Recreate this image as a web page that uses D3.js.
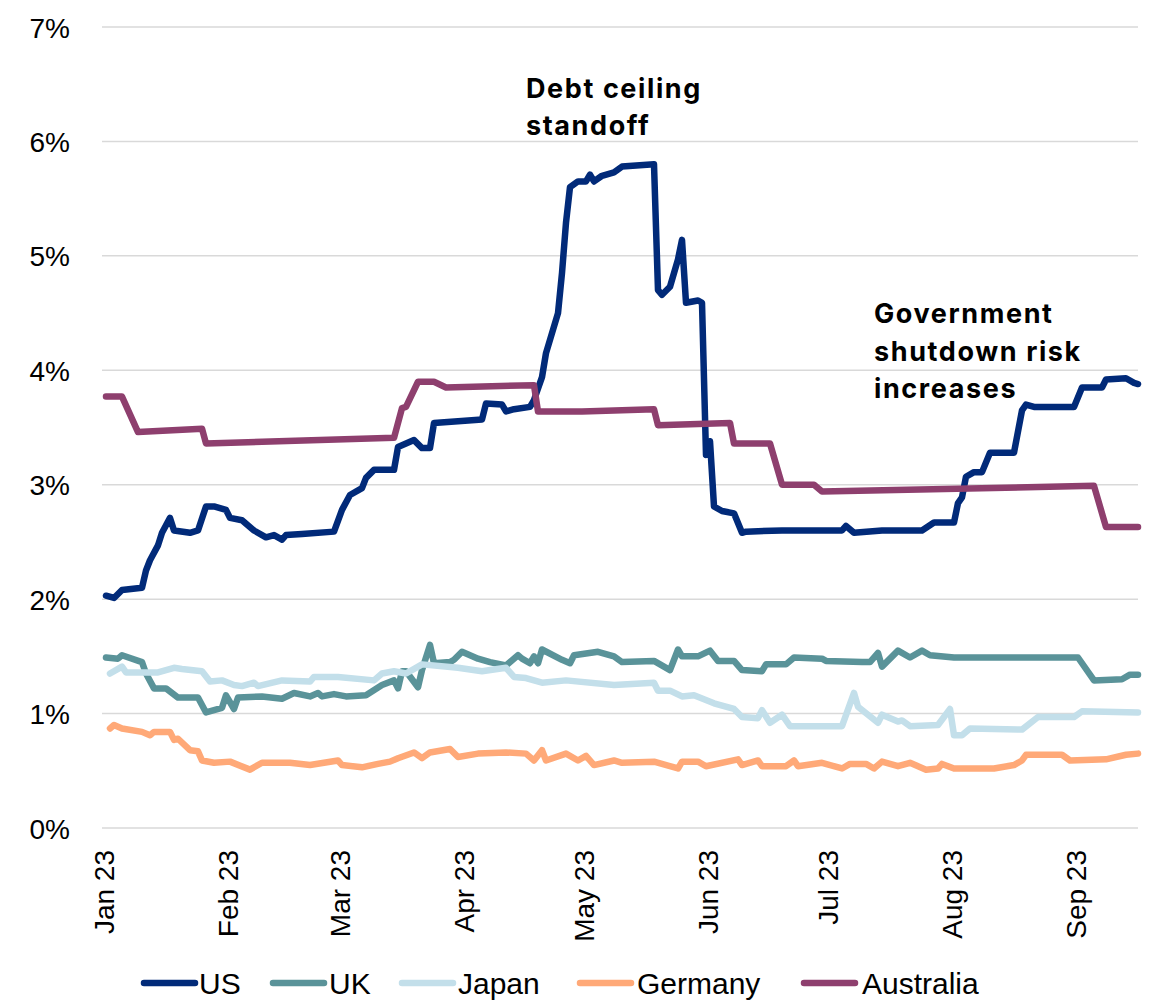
<!DOCTYPE html>
<html>
<head>
<meta charset="utf-8">
<script src="https://cdn.jsdelivr.net/npm/d3@7"></script>
<style>
  html, body { margin: 0; padding: 0; background: #ffffff; }
  svg { display: block; }
  .tick text { font-family: "Liberation Sans", Arial, sans-serif; fill: #000; }
</style>
</head>
<body>
<svg id="chart" width="1154" height="1003"></svg>
<script>
// Yields (%) by date for each market, 2023
const US = [
  ["2023-01-02",2.03],["2023-01-04",2.01],["2023-01-06",2.08],["2023-01-11",2.10],["2023-01-12",2.25],
  ["2023-01-13",2.34],["2023-01-15",2.47],["2023-01-16",2.58],["2023-01-18",2.71],["2023-01-19",2.60],
  ["2023-01-23",2.58],["2023-01-25",2.60],["2023-01-27",2.81],["2023-01-29",2.81],["2023-02-01",2.78],
  ["2023-02-02",2.71],["2023-02-05",2.69],["2023-02-08",2.60],["2023-02-11",2.54],["2023-02-13",2.56],
  ["2023-02-15",2.52],["2023-02-16",2.56],["2023-02-20",2.57],["2023-02-28",2.59],["2023-03-02",2.78],
  ["2023-03-04",2.91],["2023-03-07",2.97],["2023-03-08",3.06],["2023-03-10",3.13],["2023-03-15",3.13],
  ["2023-03-16",3.33],["2023-03-20",3.39],["2023-03-22",3.32],["2023-03-24",3.32],["2023-03-25",3.54],
  ["2023-04-06",3.57],["2023-04-07",3.71],["2023-04-11",3.70],["2023-04-12",3.64],["2023-04-14",3.66],
  ["2023-04-18",3.68],["2023-04-19",3.74],["2023-04-21",3.94],["2023-04-22",4.15],["2023-04-25",4.50],
  ["2023-04-26",4.85],["2023-04-27",5.29],["2023-04-28",5.60],["2023-04-30",5.65],["2023-05-02",5.65],
  ["2023-05-03",5.71],["2023-05-04",5.65],["2023-05-06",5.70],["2023-05-09",5.73],["2023-05-11",5.78],
  ["2023-05-19",5.80],["2023-05-20",4.70],["2023-05-21",4.66],["2023-05-23",4.73],["2023-05-25",4.97],
  ["2023-05-26",5.14],["2023-05-27",4.59],["2023-05-30",4.61],["2023-05-31",4.59],["2023-06-01",3.26],
  ["2023-06-02",3.38],["2023-06-03",2.81],["2023-06-05",2.77],["2023-06-08",2.75],["2023-06-10",2.58],
  ["2023-06-11",2.59],["2023-06-20",2.60],["2023-07-05",2.60],["2023-07-06",2.64],["2023-07-08",2.58],
  ["2023-07-15",2.60],["2023-07-25",2.60],["2023-07-28",2.67],["2023-08-02",2.67],["2023-08-03",2.84],
  ["2023-08-04",2.89],["2023-08-05",3.07],["2023-08-07",3.11],["2023-08-09",3.11],["2023-08-11",3.28],
  ["2023-08-17",3.28],["2023-08-19",3.65],["2023-08-20",3.70],["2023-08-22",3.68],["2023-09-01",3.68],
  ["2023-09-03",3.85],["2023-09-08",3.85],["2023-09-09",3.92],["2023-09-14",3.93],["2023-09-16",3.89],
  ["2023-09-17",3.88]
];
const UK = [
  ["2023-01-02",1.49],["2023-01-05",1.48],["2023-01-06",1.51],["2023-01-11",1.45],["2023-01-12",1.35],
  ["2023-01-14",1.22],["2023-01-17",1.22],["2023-01-20",1.14],["2023-01-25",1.14],["2023-01-27",1.01],
  ["2023-01-31",1.05],["2023-02-01",1.16],["2023-02-03",1.04],["2023-02-04",1.14],["2023-02-10",1.15],
  ["2023-02-15",1.13],["2023-02-18",1.18],["2023-02-22",1.15],["2023-02-24",1.18],["2023-02-25",1.15],
  ["2023-02-28",1.17],["2023-03-03",1.15],["2023-03-08",1.16],["2023-03-12",1.25],["2023-03-15",1.29],
  ["2023-03-16",1.22],["2023-03-17",1.37],["2023-03-18",1.37],["2023-03-21",1.23],["2023-03-22",1.38],
  ["2023-03-24",1.60],["2023-03-25",1.44],["2023-03-29",1.45],["2023-03-30",1.47],["2023-04-01",1.54],
  ["2023-04-05",1.48],["2023-04-08",1.45],["2023-04-12",1.42],["2023-04-15",1.51],["2023-04-16",1.48],
  ["2023-04-18",1.44],["2023-04-19",1.50],["2023-04-20",1.44],["2023-04-21",1.56],["2023-04-26",1.47],
  ["2023-04-28",1.44],["2023-04-29",1.51],["2023-05-05",1.54],["2023-05-09",1.50],["2023-05-11",1.45],
  ["2023-05-19",1.46],["2023-05-23",1.38],["2023-05-25",1.56],["2023-05-26",1.50],["2023-05-30",1.50],
  ["2023-06-02",1.55],["2023-06-04",1.46],["2023-06-08",1.46],["2023-06-10",1.38],["2023-06-15",1.37],
  ["2023-06-16",1.43],["2023-06-21",1.43],["2023-06-23",1.49],["2023-06-30",1.48],["2023-07-01",1.46],
  ["2023-07-10",1.45],["2023-07-12",1.45],["2023-07-14",1.53],["2023-07-15",1.41],["2023-07-19",1.55],
  ["2023-07-22",1.49],["2023-07-25",1.55],["2023-07-27",1.51],["2023-08-02",1.49],["2023-09-02",1.49],
  ["2023-09-06",1.29],["2023-09-13",1.30],["2023-09-15",1.34],["2023-09-17",1.34]
];
const Japan = [
  ["2023-01-03",1.35],["2023-01-06",1.41],["2023-01-07",1.36],["2023-01-15",1.36],["2023-01-19",1.40],
  ["2023-01-21",1.39],["2023-01-26",1.37],["2023-01-28",1.28],["2023-01-31",1.29],["2023-02-03",1.25],
  ["2023-02-05",1.24],["2023-02-08",1.27],["2023-02-09",1.24],["2023-02-15",1.29],["2023-02-22",1.28],
  ["2023-02-23",1.32],["2023-03-01",1.32],["2023-03-10",1.29],["2023-03-12",1.35],["2023-03-15",1.37],
  ["2023-03-18",1.35],["2023-03-22",1.43],["2023-03-31",1.40],["2023-04-06",1.37],["2023-04-12",1.40],
  ["2023-04-14",1.32],["2023-04-17",1.31],["2023-04-21",1.27],["2023-04-27",1.29],["2023-05-09",1.25],
  ["2023-05-19",1.27],["2023-05-20",1.20],["2023-05-23",1.20],["2023-05-26",1.15],["2023-05-29",1.16],
  ["2023-06-03",1.09],["2023-06-08",1.04],["2023-06-10",0.97],["2023-06-14",0.96],["2023-06-15",1.03],
  ["2023-06-17",0.92],["2023-06-20",0.99],["2023-06-22",0.89],["2023-07-05",0.89],["2023-07-08",1.18],
  ["2023-07-09",1.06],["2023-07-14",0.92],["2023-07-15",0.99],["2023-07-19",0.93],["2023-07-20",0.94],
  ["2023-07-22",0.89],["2023-07-29",0.90],["2023-08-01",1.04],["2023-08-02",0.81],["2023-08-04",0.81],
  ["2023-08-06",0.87],["2023-08-19",0.86],["2023-08-23",0.97],["2023-09-01",0.97],["2023-09-03",1.02],
  ["2023-09-17",1.01]
];
const Germany = [
  ["2023-01-03",0.87],["2023-01-04",0.90],["2023-01-06",0.87],["2023-01-11",0.84],["2023-01-13",0.81],
  ["2023-01-14",0.84],["2023-01-18",0.84],["2023-01-19",0.77],["2023-01-20",0.78],["2023-01-23",0.68],
  ["2023-01-25",0.67],["2023-01-26",0.59],["2023-01-29",0.57],["2023-02-02",0.58],["2023-02-07",0.51],
  ["2023-02-10",0.57],["2023-02-17",0.57],["2023-02-22",0.55],["2023-03-01",0.59],["2023-03-02",0.55],
  ["2023-03-07",0.53],["2023-03-11",0.56],["2023-03-14",0.58],["2023-03-16",0.61],["2023-03-20",0.66],
  ["2023-03-22",0.61],["2023-03-24",0.66],["2023-03-29",0.69],["2023-03-31",0.62],["2023-04-05",0.65],
  ["2023-04-12",0.66],["2023-04-17",0.65],["2023-04-19",0.59],["2023-04-21",0.68],["2023-04-22",0.59],
  ["2023-04-27",0.65],["2023-04-30",0.59],["2023-05-02",0.63],["2023-05-04",0.55],["2023-05-09",0.59],
  ["2023-05-11",0.57],["2023-05-19",0.58],["2023-05-25",0.52],["2023-05-26",0.58],["2023-05-30",0.58],
  ["2023-06-01",0.54],["2023-06-09",0.60],["2023-06-10",0.55],["2023-06-14",0.59],["2023-06-15",0.54],
  ["2023-06-21",0.54],["2023-06-23",0.59],["2023-06-24",0.54],["2023-06-30",0.57],["2023-07-05",0.52],
  ["2023-07-07",0.56],["2023-07-11",0.56],["2023-07-13",0.52],["2023-07-15",0.58],["2023-07-19",0.54],
  ["2023-07-22",0.57],["2023-07-26",0.51],["2023-07-29",0.52],["2023-07-30",0.56],["2023-08-02",0.52],
  ["2023-08-12",0.52],["2023-08-17",0.55],["2023-08-19",0.59],["2023-08-20",0.64],["2023-08-29",0.64],
  ["2023-08-31",0.59],["2023-09-09",0.60],["2023-09-14",0.64],["2023-09-17",0.65]
];
const Australia = [
  ["2023-01-02",3.77],["2023-01-06",3.77],["2023-01-10",3.46],["2023-01-26",3.49],["2023-01-27",3.36],
  ["2023-03-15",3.41],["2023-03-17",3.67],["2023-03-18",3.68],["2023-03-21",3.90],["2023-03-25",3.90],
  ["2023-03-28",3.85],["2023-04-19",3.87],["2023-04-20",3.64],["2023-05-01",3.64],["2023-05-19",3.66],
  ["2023-05-20",3.52],["2023-06-07",3.54],["2023-06-08",3.36],["2023-06-17",3.36],["2023-06-20",3.00],
  ["2023-06-28",3.00],["2023-06-30",2.94],["2023-09-06",2.99],["2023-09-09",2.63],["2023-09-17",2.63]
];

const seriesNames = ["US", "UK", "Japan", "Germany", "Australia"];
const seriesData = [US, UK, Japan, Germany, Australia];
const seriesColors = ["#012a79", "#5a9399", "#c3dfea", "#ffa978", "#8e3f6e"];

const monthTicks = ["2023-01-01","2023-02-01","2023-03-01","2023-04-01","2023-05-01",
                    "2023-06-01","2023-07-01","2023-08-01","2023-09-01"];
const yTicks = [0, 1, 2, 3, 4, 5, 6, 7];

const notes = [
  { date: "2023-04-17", value: 6.38, lines: ["Debt ceiling", "standoff"] },
  { date: "2023-07-13", value: 4.41, lines: ["Government", "shutdown risk", "increases"] }
];

const parse = d3.timeParse("%Y-%m-%d");
const svg = d3.select("#chart");

const x = d3.scaleTime()
  .domain([parse("2023-01-01"), parse("2023-09-17")])
  .range([102, 1138]);
const y = d3.scaleLinear().domain([0, 7]).range([828, 27]);

// horizontal gridlines
svg.append("g")
  .selectAll("line")
  .data(yTicks)
  .join("line")
  .attr("x1", x.range()[0]).attr("x2", x.range()[1])
  .attr("y1", d => y(d)).attr("y2", d => y(d))
  .attr("stroke", "#d9d9d9").attr("stroke-width", 1.5);

// y axis labels
const yAxis = svg.append("g")
  .attr("transform", "translate(70,0)")
  .call(d3.axisLeft(y).tickValues(yTicks).tickFormat(d => d + "%").tickSize(0).tickPadding(0));
yAxis.select(".domain").remove();
yAxis.selectAll("text").attr("font-size", 28).attr("dy", "0.36em");

// x axis labels, rotated
const xAxis = svg.append("g")
  .attr("transform", "translate(0,850)")
  .call(d3.axisBottom(x).tickValues(monthTicks.map(parse)).tickFormat(d3.timeFormat("%b %y")).tickSize(0).tickPadding(0));
xAxis.select(".domain").remove();
xAxis.selectAll("text")
  .attr("font-size", 28)
  .attr("text-anchor", "end")
  .attr("transform", "rotate(-90)")
  .attr("x", 0).attr("y", 0)
  .attr("dy", "0.42em");

// series lines
const line = d3.line()
  .x(d => x(parse(d[0])))
  .y(d => y(d[1]));

svg.append("g")
  .selectAll("path")
  .data(seriesData)
  .join("path")
  .attr("d", line)
  .attr("fill", "none")
  .attr("stroke", (d, i) => seriesColors[i])
  .attr("stroke-width", 6.5)
  .attr("stroke-linejoin", "round")
  .attr("stroke-linecap", "round");

// annotations
notes.forEach(n => {
  const t = svg.append("text")
    .attr("font-family", "Inter, 'Open Sans', sans-serif")
    .attr("font-weight", 700)
    .attr("font-size", 27)
    .attr("letter-spacing", 1.6)
    .attr("fill", "#000")
    .attr("x", x(parse(n.date)))
    .attr("y", y(n.value));
  n.lines.forEach((s, i) => {
    t.append("tspan").attr("x", x(parse(n.date))).attr("dy", i === 0 ? 0 : 37.5).text(s);
  });
});

// legend
const legendX = [144, 273, 402, 580, 804];
const legendTextX = [199, 329, 458, 637, 862];
const legend = svg.append("g").attr("transform", "translate(0,983)");
const item = legend.selectAll("g")
  .data(seriesNames)
  .join("g");
item.append("line")
  .attr("x1", (d, i) => legendX[i]).attr("x2", (d, i) => legendX[i] + 51)
  .attr("stroke", (d, i) => seriesColors[i])
  .attr("stroke-width", 6.5)
  .attr("stroke-linecap", "round");
item.append("text")
  .attr("x", (d, i) => legendTextX[i])
  .attr("dy", "0.36em")
  .attr("font-family", "'Liberation Sans', Arial, sans-serif")
  .attr("font-size", 30)
  .attr("fill", "#000")
  .text(d => d);
</script>
</body>
</html>
